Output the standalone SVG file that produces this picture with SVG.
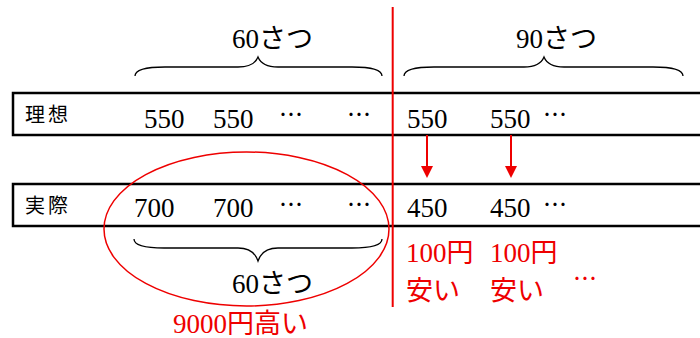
<svg xmlns="http://www.w3.org/2000/svg" width="700" height="338" viewBox="0 0 700 338">
<style>
.t{font-family:"Liberation Serif","Noto Sans CJK JP",serif;font-size:27px;fill:#000}
.lb{font-family:"Noto Sans CJK JP",sans-serif;font-size:20px;fill:#000;letter-spacing:3px}
.dot{font-family:"Noto Sans CJK JP",sans-serif;font-size:24px;fill:#000}
.r{fill:#e00}
.box{fill:none;stroke:#000;stroke-width:2.5}
.br{fill:none;stroke:#000;stroke-width:1.3}
.red{stroke:#e00;stroke-width:2;fill:none}
</style>
<defs>
<marker id="ah" markerWidth="6" markerHeight="6" refX="5" refY="3" orient="auto" markerUnits="strokeWidth">
<path d="M0,0 L6,3 L0,6 z" fill="#e00"/>
</marker>
</defs>
<g id="row-ideal">
<rect class="box" x="13" y="93" width="700" height="42"/>
<text class="lb" x="25" y="122">理想</text>
<text class="t" x="144" y="128">550</text>
<text class="t" x="213" y="128">550</text>
<text class="dot" x="279" y="123">…</text>
<text class="dot" x="347" y="123">…</text>
<text class="t" x="407" y="128">550</text>
<text class="t" x="490" y="128">550</text>
<text class="dot" x="543" y="123">…</text>
</g>
<g id="row-actual">
<rect class="box" x="13" y="184" width="700" height="42"/>
<text class="lb" x="25" y="213">実際</text>
<text class="t" x="134" y="217">700</text>
<text class="t" x="213" y="217">700</text>
<text class="dot" x="279" y="213">…</text>
<text class="dot" x="347" y="213">…</text>
<text class="t" x="407" y="217">450</text>
<text class="t" x="490" y="217">450</text>
<text class="dot" x="543" y="213">…</text>
</g>
<g id="brace-top-60">
<path class="br" d="M135,76 C135,70 145,67 165,67 L238,67 C252,67 256,62 258,57 C260,62 264,67 278,67 L352,67 C372,67 382,70 382,76"/>
<text class="t" x="232" y="48">60さつ</text>
</g>
<g id="brace-top-90">
<path class="br" d="M404,76 C404,70 414,67 434,67 L524,67 C538,67 542,62 544,57 C546,62 550,67 564,67 L653,67 C673,67 683,70 683,76"/>
<text class="t" x="516" y="48">90さつ</text>
</g>
<g id="brace-bottom-60">
<path class="br" d="M134,239 C134,245 144,248 164,248 L238,248 C252,248 256,255 258,261 C260,255 264,248 278,248 L352,248 C372,248 382,245 382,239"/>
<text class="t" x="232" y="293">60さつ</text>
</g>
<g id="highlight">
<ellipse cx="246.5" cy="229" rx="142.5" ry="77" fill="none" stroke="#e00" stroke-width="1.5"/>
<text class="t r" x="173" y="333">9000円高い</text>
</g>
<g id="notes">
<text class="t r" x="406" y="262">100円</text>
<text class="t r" x="406" y="300">安い</text>
<text class="t r" x="490" y="262">100円</text>
<text class="t r" x="490" y="300">安い</text>
<text class="dot r" x="573" y="287">…</text>
</g>
<g id="connectors">
<line class="red" x1="392.7" y1="7" x2="392.7" y2="307"/>
<line class="red" x1="427" y1="135" x2="427" y2="176" marker-end="url(#ah)"/>
<line class="red" x1="511" y1="135" x2="511" y2="176" marker-end="url(#ah)"/>
</g>
</svg>
